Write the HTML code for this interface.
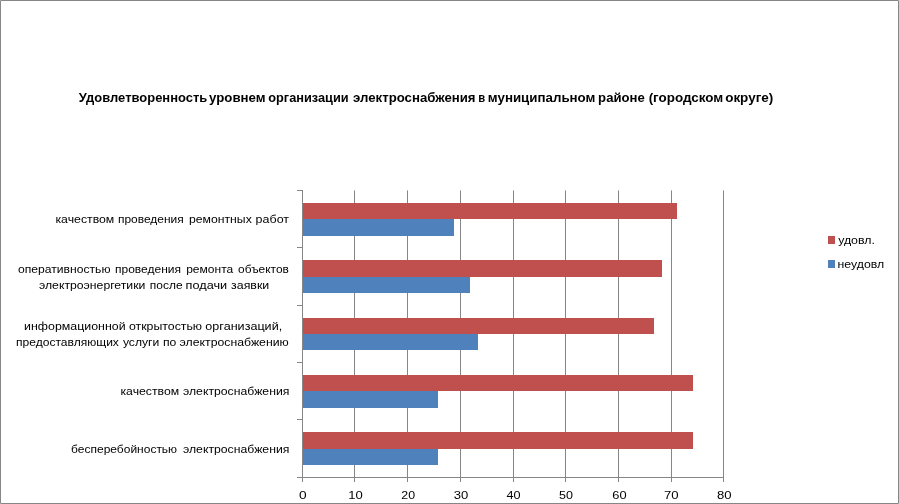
<!DOCTYPE html>
<html lang="ru"><head><meta charset="utf-8"><title>Удовлетворенность уровнем организации электроснабжения</title>
<style>html,body{margin:0;padding:0;background:#fff}body{width:899px;height:504px;overflow:hidden}svg{display:block;will-change:transform}text{font-family:"Liberation Sans",sans-serif;fill:#000}</style></head><body>
<svg width="899" height="504" viewBox="0 0 899 504">
<rect x="0.5" y="0.5" width="898" height="503" fill="none" stroke="#868686" stroke-width="1"/>
<rect x="0" y="0" width="1" height="1" fill="#A8A8A8"/>
<rect x="898" y="0" width="1" height="1" fill="#A8A8A8"/>
<rect x="0" y="503" width="1" height="1" fill="#A8A8A8"/>
<rect x="898" y="503" width="1" height="1" fill="#A8A8A8"/>
<g stroke="#868686" stroke-width="1" fill="none">
<line x1="354.5" y1="190.4" x2="354.5" y2="482"/>
<line x1="407.5" y1="190.4" x2="407.5" y2="482"/>
<line x1="460.5" y1="190.4" x2="460.5" y2="482"/>
<line x1="513.5" y1="190.4" x2="513.5" y2="482"/>
<line x1="565.5" y1="190.4" x2="565.5" y2="482"/>
<line x1="618.5" y1="190.4" x2="618.5" y2="482"/>
<line x1="671.5" y1="190.4" x2="671.5" y2="482"/>
<line x1="723.5" y1="190.4" x2="723.5" y2="482"/>
<line x1="302.5" y1="190" x2="302.5" y2="482"/>
<line x1="297" y1="477.5" x2="724" y2="477.5"/>
<line x1="297" y1="190.5" x2="303" y2="190.5"/>
<line x1="297" y1="247.5" x2="303" y2="247.5"/>
<line x1="297" y1="305.5" x2="303" y2="305.5"/>
<line x1="297" y1="362.5" x2="303" y2="362.5"/>
<line x1="297" y1="419.5" x2="303" y2="419.5"/>
</g>
<rect x="303" y="203" width="374" height="16" fill="#C0504D"/>
<rect x="303" y="219" width="151" height="17" fill="#4F81BD"/>
<rect x="303" y="260" width="359" height="17" fill="#C0504D"/>
<rect x="303" y="277" width="167" height="16" fill="#4F81BD"/>
<rect x="303" y="318" width="351" height="16" fill="#C0504D"/>
<rect x="303" y="334" width="175" height="16" fill="#4F81BD"/>
<rect x="303" y="375" width="390" height="16" fill="#C0504D"/>
<rect x="303" y="391" width="135" height="17" fill="#4F81BD"/>
<rect x="303" y="432" width="390" height="17" fill="#C0504D"/>
<rect x="303" y="449" width="135" height="16" fill="#4F81BD"/>
<rect x="828" y="236" width="7" height="8" fill="#C0504D"/>
<rect x="828" y="260" width="7" height="8" fill="#4F81BD"/>
<text y="102.4" font-size="12.6" font-weight="bold" xml:space="preserve"><tspan x="78.84" textLength="128.47" lengthAdjust="spacingAndGlyphs">Удовлетворенность</tspan> <tspan x="209.05" textLength="56.55" lengthAdjust="spacingAndGlyphs">уровнем</tspan> <tspan x="268.28" textLength="80.40" lengthAdjust="spacingAndGlyphs">организации</tspan> <tspan x="353.07" textLength="122.52" lengthAdjust="spacingAndGlyphs">электроснабжения</tspan> <tspan x="478.17" textLength="6.96" lengthAdjust="spacingAndGlyphs">в</tspan> <tspan x="487.83" textLength="107.59" lengthAdjust="spacingAndGlyphs">муниципальном</tspan> <tspan x="598.14" textLength="46.63" lengthAdjust="spacingAndGlyphs">районе</tspan> <tspan x="648.66" textLength="74.56" lengthAdjust="spacingAndGlyphs">(городском</tspan> <tspan x="725.17" textLength="48.10" lengthAdjust="spacingAndGlyphs">округе)</tspan></text>
<text y="223" font-size="11.5" xml:space="preserve"><tspan x="55.48" textLength="58.84" lengthAdjust="spacingAndGlyphs">качеством</tspan> <tspan x="118.00" textLength="65.72" lengthAdjust="spacingAndGlyphs">проведения</tspan> <tspan x="188.92" textLength="62.86" lengthAdjust="spacingAndGlyphs">ремонтных</tspan> <tspan x="255.64" textLength="33.39" lengthAdjust="spacingAndGlyphs">работ</tspan></text>
<text y="273" font-size="11.5" xml:space="preserve"><tspan x="17.98" textLength="92.55" lengthAdjust="spacingAndGlyphs">оперативностью</tspan> <tspan x="115.04" textLength="65.94" lengthAdjust="spacingAndGlyphs">проведения</tspan> <tspan x="186.20" textLength="47.03" lengthAdjust="spacingAndGlyphs">ремонта</tspan> <tspan x="238.14" textLength="50.72" lengthAdjust="spacingAndGlyphs">объектов</tspan></text>
<text y="289" font-size="11.5" xml:space="preserve"><tspan x="39.01" textLength="106.38" lengthAdjust="spacingAndGlyphs">электроэнергетики</tspan> <tspan x="149.86" textLength="32.75" lengthAdjust="spacingAndGlyphs">после</tspan> <tspan x="185.60" textLength="41.57" lengthAdjust="spacingAndGlyphs">подачи</tspan> <tspan x="231.14" textLength="38.10" lengthAdjust="spacingAndGlyphs">заявки</tspan></text>
<text y="330" font-size="11.5" xml:space="preserve"><tspan x="24.12" textLength="101.45" lengthAdjust="spacingAndGlyphs">информационной</tspan> <tspan x="128.95" textLength="73.19" lengthAdjust="spacingAndGlyphs">открытостью</tspan> <tspan x="205.36" textLength="76.80" lengthAdjust="spacingAndGlyphs">организаций,</tspan></text>
<text y="346" font-size="11.5" xml:space="preserve"><tspan x="16.03" textLength="102.87" lengthAdjust="spacingAndGlyphs">предоставляющих</tspan> <tspan x="122.93" textLength="36.35" lengthAdjust="spacingAndGlyphs">услуги</tspan> <tspan x="163.00" textLength="13.39" lengthAdjust="spacingAndGlyphs">по</tspan> <tspan x="179.62" textLength="109.10" lengthAdjust="spacingAndGlyphs">электроснабжению</tspan></text>
<text y="395" font-size="11.5" xml:space="preserve"><tspan x="120.48" textLength="58.67" lengthAdjust="spacingAndGlyphs">качеством</tspan> <tspan x="183.03" textLength="106.36" lengthAdjust="spacingAndGlyphs">электроснабжения</tspan></text>
<text y="453" font-size="11.5" xml:space="preserve"><tspan x="71.10" textLength="106.03" lengthAdjust="spacingAndGlyphs">бесперебойностью</tspan> <tspan x="183.03" textLength="106.36" lengthAdjust="spacingAndGlyphs">электроснабжения</tspan></text>
<text y="243.8" font-size="11.5" xml:space="preserve"><tspan x="838.16" textLength="36.75" lengthAdjust="spacingAndGlyphs">удовл.</tspan></text>
<text y="267.8" font-size="11.5" xml:space="preserve"><tspan x="837.59" textLength="46.63" lengthAdjust="spacingAndGlyphs">неудовл</tspan></text>
<text y="499" font-size="11.5" xml:space="preserve"><tspan x="298.97" textLength="7.60" lengthAdjust="spacingAndGlyphs">0</tspan><tspan x="348.15" textLength="14.52" lengthAdjust="spacingAndGlyphs">10</tspan><tspan x="401.30" textLength="13.75" lengthAdjust="spacingAndGlyphs">20</tspan><tspan x="453.84" textLength="14.51" lengthAdjust="spacingAndGlyphs">30</tspan><tspan x="506.58" textLength="14.05" lengthAdjust="spacingAndGlyphs">40</tspan><tspan x="558.95" textLength="13.93" lengthAdjust="spacingAndGlyphs">50</tspan><tspan x="612.27" textLength="14.26" lengthAdjust="spacingAndGlyphs">60</tspan><tspan x="664.07" textLength="14.61" lengthAdjust="spacingAndGlyphs">70</tspan><tspan x="717.07" textLength="14.55" lengthAdjust="spacingAndGlyphs">80</tspan></text>
</svg></body></html>
